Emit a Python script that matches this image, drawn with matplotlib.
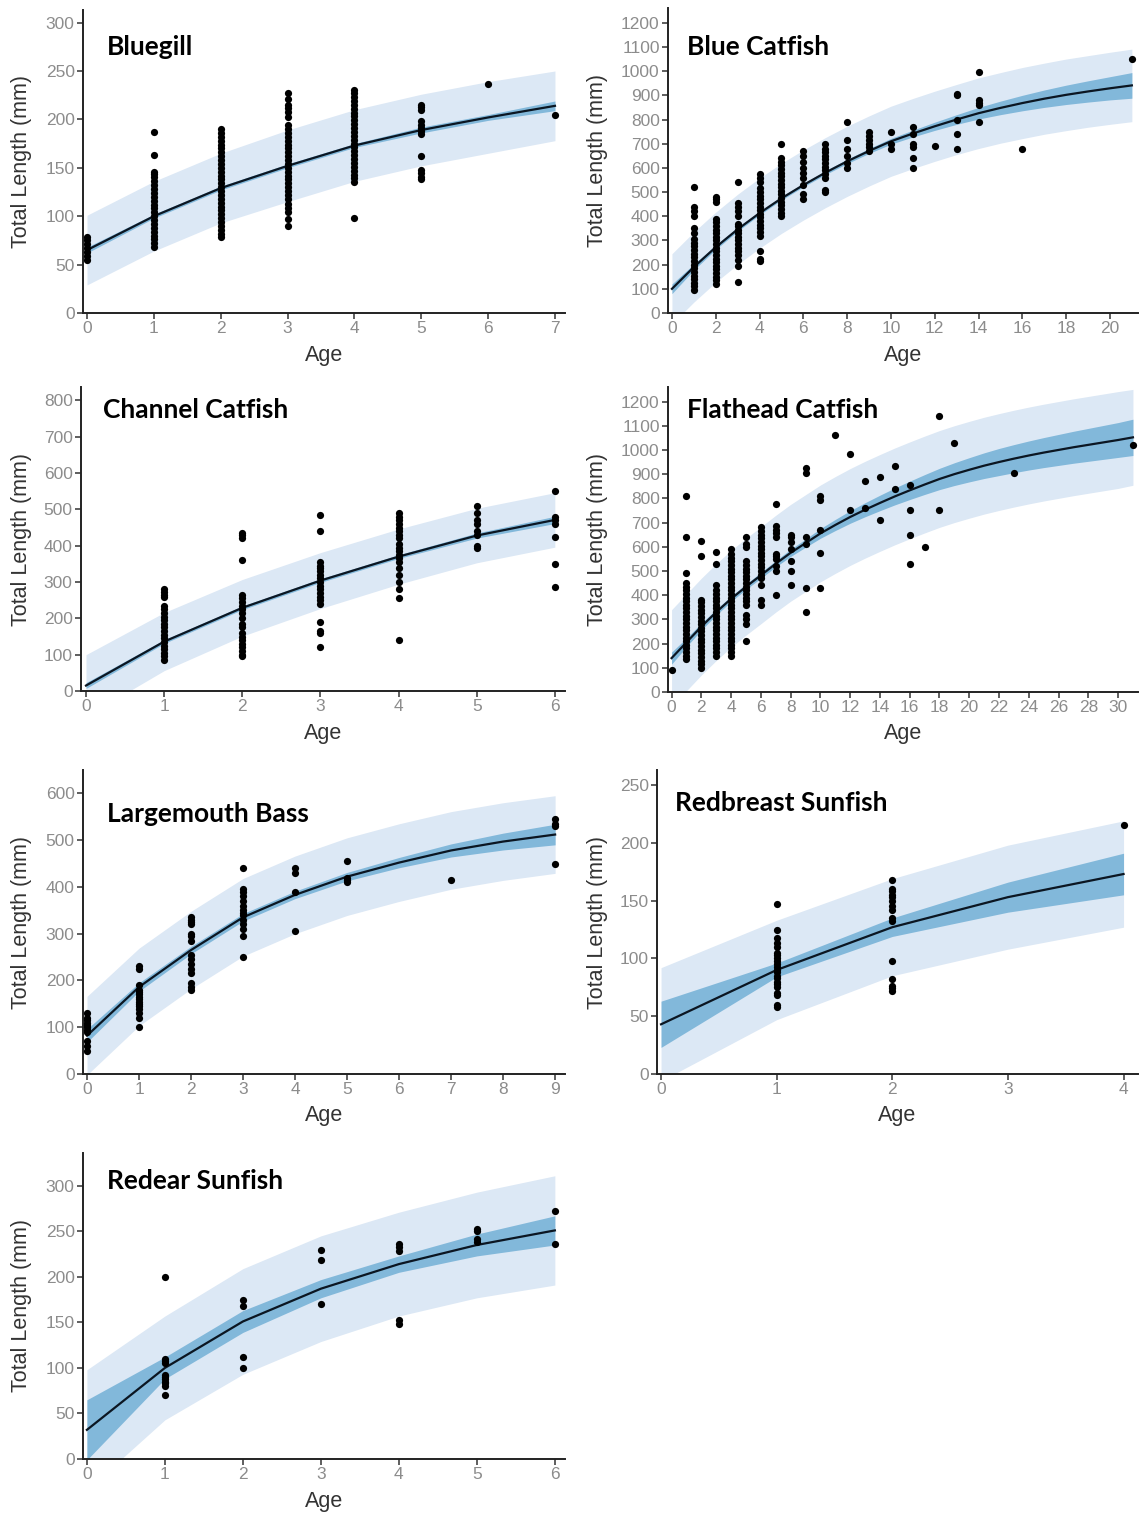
import matplotlib
matplotlib.use("Agg")
import matplotlib.pyplot as plt

plt.rcParams["font.family"] = ["Liberation Sans", "DejaVu Sans"]

# ---- data ----
species = ["Bluegill", "Blue Catfish", "Channel Catfish", "Flathead Catfish",
           "Largemouth Bass", "Redbreast Sunfish", "Redear Sunfish"]

# fitted mean length at each integer age
bluegill_fit = [65, 100, 129, 152, 173, 189, 202, 214]
bluecat_fit = [100, 190, 272, 346, 413, 474, 529, 580, 627, 670, 710, 742,
               772, 800, 826, 848, 868, 886, 902, 916, 929, 941]
channel_fit = [15, 136, 229, 304, 370, 428, 471]
flathead_fit = [140, 205, 270, 330, 385, 435, 482, 530, 575, 615, 655, 690,
                723, 753, 781, 808, 833, 857, 880, 900, 918, 935, 950, 964,
                977, 989, 1000, 1011, 1021, 1031, 1041, 1052]
largemouth_fit = [82, 186, 265, 335, 383, 422, 452, 478, 497, 512]
redbreast_fit = [43, 90, 127, 153, 173]
redear_fit = [32, 100, 151, 187, 214, 235, 251]

# half width of the prediction band (light) and confidence band (dark)
bluegill_pi = [36, 36, 36, 37, 37, 37, 37, 36]
bluegill_ci = [3, 2, 2, 2, 2, 3, 3, 5]
bluecat_pi = [145, 145, 145, 145, 145, 145, 145, 145, 145, 145, 145, 145,
              145, 145, 146, 146, 147, 147, 148, 148, 149, 150]
bluecat_ci = [20, 12, 9, 8, 7, 7, 7, 8, 9, 10, 12, 14, 17, 20, 24, 28, 32,
              36, 40, 44, 48, 53]
channel_pi = [85, 80, 78, 77, 76, 75, 75]
channel_ci = [8, 5, 5, 5, 5, 7, 10]
flathead_pi = [200, 200, 200, 200, 200, 200, 200, 200, 200, 200, 200, 200,
               200, 200, 200, 200, 200, 200, 200, 200, 200, 200, 200, 200,
               200, 200, 200, 200, 200, 200, 200, 198]
flathead_ci = [25, 18, 14, 12, 11, 11, 12, 13, 15, 17, 20, 23, 26, 29, 32,
               35, 38, 41, 44, 47, 50, 53, 56, 58, 60, 62, 64, 66, 68, 70,
               72, 75]
largemouth_pi = [84, 83, 83, 83, 83, 83, 83, 83, 83, 83]
largemouth_ci = [14, 9, 8, 8, 8, 9, 11, 14, 18, 22]
redbreast_pi = [49, 43, 42, 45, 46]
redbreast_ci = [20, 6, 8, 13, 18]
redear_pi = [66, 57, 58, 58, 57, 58, 60]
redear_ci = [33, 12, 12, 10, 9, 12, 16]

# observed fish: age -> total lengths (mm)
bluegill_pts = {
    0: [55, 59, 63, 67, 71, 75, 79],
    1: [68, 72, 76, 80, 84, 88, 92, 96, 100, 104, 108, 112, 116, 120, 124,
        128, 132, 136, 140, 144, 146, 163, 187],
    2: [78, 82, 86, 90, 94, 98, 102, 106, 110, 114, 118, 122, 126, 130, 134,
        138, 142, 146, 150, 154, 158, 162, 166, 170, 174, 178, 182, 186, 190],
    3: [90, 97, 104, 108, 113, 118, 122, 126, 130, 134, 138, 142, 146, 150,
        154, 158, 162, 166, 170, 174, 178, 182, 186, 190, 194, 202, 208, 212,
        215, 221, 227],
    4: [98, 135, 139, 143, 147, 151, 155, 159, 163, 167, 171, 175, 179, 183,
        187, 191, 195, 199, 203, 207, 211, 215, 219, 223, 227, 230],
    5: [138, 141, 145, 148, 162, 185, 188, 191, 194, 198, 210, 213, 215],
    6: [237],
    7: [205],
}
bluecat_pts = {
    1: [95, 110, 125, 140, 155, 170, 185, 200, 215, 230, 245, 260, 275, 290,
        305, 330, 350, 400, 420, 440, 520],
    2: [120, 135, 150, 165, 180, 195, 210, 225, 240, 255, 270, 285, 300, 315,
        330, 345, 360, 375, 390, 460, 470, 480],
    3: [130, 195, 220, 240, 255, 270, 285, 300, 315, 330, 345, 360, 370, 400,
        420, 440, 455, 540],
    4: [215, 225, 255, 320, 335, 350, 365, 380, 395, 410, 425, 440, 455, 470,
        485, 500, 515, 540, 560, 575],
    5: [400, 415, 430, 445, 460, 475, 490, 505, 520, 535, 550, 565, 580, 595,
        610, 625, 640, 700],
    6: [470, 490, 530, 560, 580, 600, 625, 650, 670],
    7: [500, 510, 560, 575, 590, 605, 620, 635, 650, 665, 680, 700],
    8: [600, 620, 650, 680, 715, 790],
    9: [670, 685, 700, 715, 730, 750],
    10: [680, 700, 750],
    11: [600, 640, 685, 700, 740, 770],
    12: [690],
    13: [680, 740, 800, 900, 905],
    14: [790, 860, 870, 880, 995],
    16: [680],
    21: [1050],
}
channel_pts = {
    1: [85, 95, 105, 115, 125, 135, 145, 155, 165, 175, 185, 195, 205, 215,
        225, 235, 260, 265, 272, 280],
    2: [95, 100, 110, 120, 130, 140, 150, 160, 175, 185, 200, 215, 225, 235,
        245, 255, 265, 360, 420, 430, 435],
    3: [120, 160, 165, 190, 240, 250, 260, 270, 280, 290, 300, 310, 320, 330,
        340, 345, 355, 440, 485],
    4: [140, 255, 280, 300, 320, 340, 355, 365, 375, 385, 395, 405, 420, 430,
        440, 450, 460, 470, 480, 490],
    5: [395, 400, 430, 440, 460, 470, 490, 510],
    6: [285, 350, 425, 460, 470, 480, 550],
}
flathead_pts = {
    0: [90],
    1: [135, 150, 165, 180, 195, 210, 225, 240, 255, 270, 285, 300, 315, 330,
        345, 360, 375, 390, 405, 420, 435, 450, 490, 640, 810],
    2: [100, 115, 130, 145, 160, 175, 190, 205, 220, 235, 250, 265, 280, 295,
        310, 325, 340, 355, 370, 380, 560, 625],
    3: [150, 165, 180, 195, 210, 225, 240, 255, 270, 285, 300, 315, 330, 345,
        360, 375, 390, 405, 420, 440, 530, 580],
    4: [150, 165, 180, 195, 210, 225, 240, 255, 270, 285, 300, 315, 330, 345,
        360, 375, 390, 405, 420, 435, 450, 465, 480, 495, 510, 525, 540, 555,
        570, 590],
    5: [210, 280, 300, 320, 360, 375, 390, 405, 420, 435, 450, 465, 480, 495,
        510, 525, 540, 600, 610, 640],
    6: [360, 380, 440, 470, 485, 500, 515, 530, 545, 560, 575, 590, 605, 620,
        635, 650, 665, 680],
    7: [400, 500, 520, 550, 560, 570, 640, 655, 670, 685, 775],
    8: [440, 500, 540, 590, 620, 640, 650],
    9: [330, 430, 610, 640, 905, 925],
    10: [430, 575, 670, 795, 810],
    11: [1060],
    12: [750, 985],
    13: [760, 870],
    14: [710, 890],
    15: [840, 935],
    16: [530, 650, 750, 855],
    17: [600],
    18: [750, 1140],
    19: [1030],
    23: [905],
    31: [1020],
}
largemouth_pts = {
    0: [50, 60, 70, 90, 95, 100, 105, 110, 115, 120, 130],
    1: [100, 120, 130, 140, 145, 150, 155, 160, 165, 170, 175, 180, 190, 225,
        230],
    2: [180, 185, 195, 215, 225, 235, 245, 255, 285, 295, 300, 320, 325, 330,
        335],
    3: [250, 295, 310, 320, 330, 340, 345, 350, 360, 370, 380, 390, 395, 440],
    4: [305, 390, 430, 440],
    5: [410, 415, 420, 455],
    7: [415],
    9: [450, 530, 535, 545],
}
redbreast_pts = {
    1: [58, 60, 68, 70, 75, 78, 80, 83, 85, 88, 90, 93, 95, 98, 100, 103, 105,
        110, 113, 118, 125, 147],
    2: [72, 74, 76, 82, 98, 132, 135, 142, 145, 150, 153, 155, 158, 160, 168],
    4: [215],
}
redear_pts = {
    1: [70, 80, 83, 85, 88, 90, 92, 105, 108, 110, 200],
    2: [100, 112, 168, 175],
    3: [170, 218, 230],
    4: [148, 153, 228, 233, 236],
    5: [238, 242, 250, 253],
    6: [236, 272],
}

fits = [bluegill_fit, bluecat_fit, channel_fit, flathead_fit,
        largemouth_fit, redbreast_fit, redear_fit]
pis = [bluegill_pi, bluecat_pi, channel_pi, flathead_pi,
       largemouth_pi, redbreast_pi, redear_pi]
cis = [bluegill_ci, bluecat_ci, channel_ci, flathead_ci,
       largemouth_ci, redbreast_ci, redear_ci]
points = [bluegill_pts, bluecat_pts, channel_pts, flathead_pts,
          largemouth_pts, redbreast_pts, redear_pts]

x_step = [1, 2, 1, 2, 1, 1, 1]
x_max_tick = [7, 20, 6, 30, 9, 4, 6]
y_step = [50, 100, 100, 100, 100, 50, 50]
y_max_tick = [300, 1200, 800, 1200, 600, 250, 300]

# ---- layout (pixels) ----
W, H = 1143, 1521
# axes boxes: left, top, right, bottom
boxes = [(83, 10, 565, 313), (668, 8, 1138, 313),
         (81, 387, 565, 691), (668, 387, 1138, 692),
         (83, 770, 565, 1074), (657, 770, 1138, 1074),
         (83, 1153, 565, 1459)]
xlims = [(-0.06, 7.15), (-0.18, 21.28), (-0.064, 6.13), (-0.24, 31.34),
         (-0.077, 9.19), (-0.035, 4.125), (-0.05, 6.13)]
ylims = [313, 1261, 837, 1260, 650, 263, 336]
title_pos = [(107, 47), (687, 47), (103, 410), (687, 410),
             (107, 814), (675, 803), (107, 1181)]
ylab_x = [22, 597, 22, 597, 22, 597, 22]

light = "#dce8f5"
dark = "#82b8da"
tick_grey = "#8c8c8c"

fig = plt.figure(figsize=(W / 100, H / 100), dpi=100)

for i, name in enumerate(species):
    l, t, r, b = boxes[i]
    ax = fig.add_axes([l / W, 1 - b / H, (r - l) / W, (b - t) / H])
    fit = fits[i]
    ages = list(range(len(fit)))
    up_pi = [f + w for f, w in zip(fit, pis[i])]
    lo_pi = [f - w for f, w in zip(fit, pis[i])]
    up_ci = [f + w for f, w in zip(fit, cis[i])]
    lo_ci = [f - w for f, w in zip(fit, cis[i])]
    ax.fill_between(ages, lo_pi, up_pi, color=light, lw=0, zorder=1)
    ax.fill_between(ages, lo_ci, up_ci, color=dark, lw=0, zorder=2)
    ax.plot(ages, fit, color="#0b1622", lw=1.6, zorder=3)
    for age, lens in points[i].items():
        ax.scatter([age] * len(lens), lens, s=27, color="black", lw=0, zorder=4)

    ax.set_xlim(*xlims[i])
    ax.set_ylim(0, ylims[i])
    ax.set_xticks(range(0, x_max_tick[i] + 1, x_step[i]))
    ax.set_yticks(range(0, y_max_tick[i] + 1, y_step[i]))
    for s in ["top", "right"]:
        ax.spines[s].set_visible(False)
    for s in ["left", "bottom"]:
        ax.spines[s].set_linewidth(1.4)
        ax.spines[s].set_color("#222222")
    ax.tick_params(length=4, width=1.1, color="#333333", labelcolor=tick_grey,
                   labelsize=12.5, pad=2)

    hpx = b - t
    wpx = r - l
    ax.set_xlabel("Age", fontsize=15.5, color="#333333")
    ax.xaxis.set_label_coords(0.5, -(42 / hpx))
    ax.xaxis.label.set_va("center")
    ax.set_ylabel("Total Length (mm)", fontsize=15.5, color="#333333")
    ax.yaxis.set_label_coords((ylab_x[i] - l) / wpx, 0.5)
    ax.yaxis.label.set_va("center")

    tx, ty = title_pos[i]
    fig.text(tx / W, 1 - ty / H, name, fontsize=19, fontweight="bold",
             family="Lato", ha="left", va="center", color="black")

fig.savefig("out.png", dpi=100, facecolor="white")
